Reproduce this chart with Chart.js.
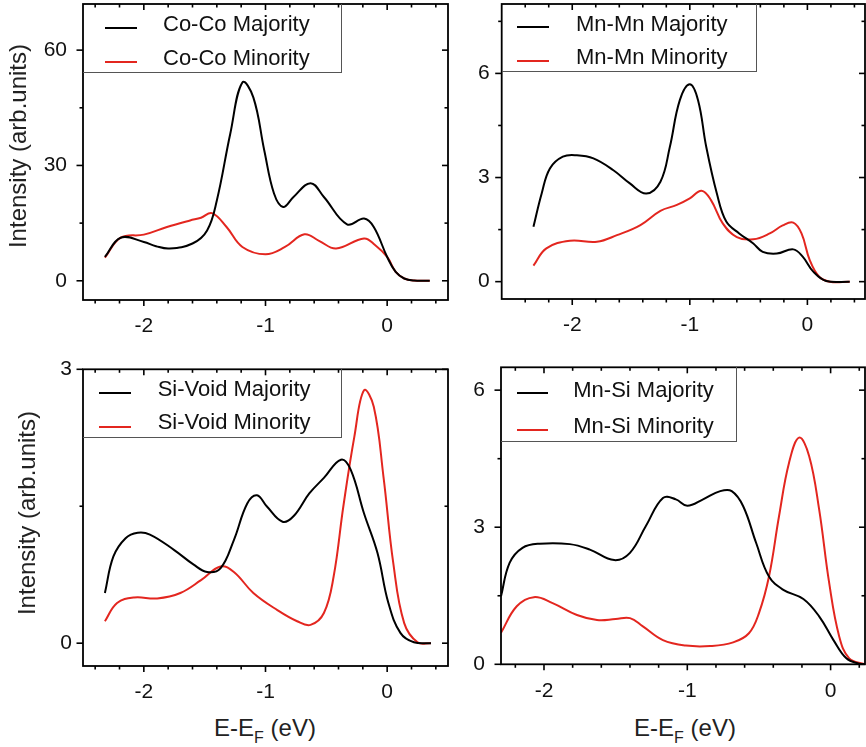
<!DOCTYPE html>
<html><head><meta charset="utf-8">
<script src="https://cdn.jsdelivr.net/npm/chart.js@4"></script>
<style>
html,body{margin:0;padding:0;background:#fff;}
body{width:866px;height:747px;position:relative;overflow:hidden;font-family:'Liberation Sans',Arial,Helvetica,sans-serif;color:#111;}
canvas{position:absolute;}
.lg{position:absolute;border-right:1px solid #555;border-bottom:1px solid #555;box-sizing:border-box;}
.lt{position:absolute;font-size:22px;line-height:22px;white-space:nowrap;color:#111;}
.ls{position:absolute;height:2px;}
.yt{position:absolute;width:260px;height:24px;line-height:24px;font-size:24px;text-align:center;transform:rotate(-90deg);white-space:nowrap;color:#222;}
.xt{position:absolute;width:200px;height:24px;line-height:24px;font-size:24px;text-align:center;white-space:nowrap;color:#222;}
.xt span{font-size:16px;position:relative;top:7px;}
</style></head><body>
<canvas id="c1"></canvas><canvas id="c2"></canvas><canvas id="c3"></canvas><canvas id="c4"></canvas>
<script>
// ---------- data ----------
const seriesNames = [
  ['Co-Co Majority','Co-Co Minority'],
  ['Mn-Mn Majority','Mn-Mn Minority'],
  ['Si-Void Majority','Si-Void Minority'],
  ['Mn-Si Majority','Mn-Si Minority']
];
const yTitle = 'Intensity (arb.units)';
const xTitleMain = 'E-E', xTitleSub = 'F', xTitleUnit = ' (eV)';

const xMajorTicks = [-2, -1, 0];
const xMinorTicksA = [-2.4,-2.2,-1.8,-1.6,-1.4,-1.2,-0.8,-0.6,-0.4,-0.2,0.2,0.4];
const xMinorTicksB = [-2.2,-1.8,-1.6,-1.4,-1.2,-0.8,-0.6,-0.4,-0.2,0.2];
const coYMajor = [0, 30, 60], coYMinor = [15, 45];
const mnYMajor = [0, 3, 6], mnYMinor = [1.5, 4.5, 7.5];
const siYMajor = [0, 3], siYMinor = [1.5];
const msYMajor = [0, 3, 6], msYMinor = [1.5, 4.5];

// Co-Co
const coMajX = [-2.32,-2.19,-2.0,-1.9,-1.79,-1.6,-1.48,-1.40,-1.29,-1.19,-1.10,-1.01,-0.93,-0.855,-0.77,-0.63,-0.52,-0.33,-0.19,-0.11,0,0.07,0.14,0.22,0.35];
const coMajY = [6.2,11.2,10.1,9.0,8.4,9.7,13.1,20.9,38.2,51.6,47.7,33.9,22.7,19.2,21.8,25.4,21.8,14.7,16.2,14.0,6.2,2.3,0.6,0.05,0];
const coMinX = [-2.32,-2.19,-2.0,-1.81,-1.62,-1.53,-1.44,-1.32,-1.19,-1.0,-0.84,-0.68,-0.56,-0.42,-0.19,-0.10,0,0.07,0.14,0.22,0.35];
const coMinY = [6.0,11.2,12.0,14.0,15.7,16.4,17.6,14.0,8.8,6.9,8.8,12.1,10.4,8.4,11.0,9.3,6.2,2.3,0.6,0.05,0];
// Mn-Mn
const mnMajX = [-2.33,-2.26,-2.19,-2.08,-1.96,-1.82,-1.65,-1.51,-1.37,-1.25,-1.17,-1.085,-1.0,-0.93,-0.86,-0.77,-0.69,-0.58,-0.46,-0.38,-0.26,-0.12,-0.04,0.05,0.16,0.36];
const mnMajY = [1.58,2.54,3.26,3.6,3.64,3.55,3.21,2.83,2.54,2.88,3.88,5.23,5.69,5.23,3.88,2.54,1.73,1.39,1.10,0.86,0.81,0.93,0.72,0.29,0.02,0];
const mnMinX = [-2.33,-2.22,-2.02,-1.79,-1.62,-1.42,-1.25,-1.11,-1.0,-0.90,-0.82,-0.72,-0.60,-0.46,-0.32,-0.21,-0.12,-0.05,0.02,0.10,0.19,0.36];
const mnMinY = [0.46,0.96,1.18,1.15,1.34,1.63,2.04,2.21,2.40,2.62,2.35,1.68,1.28,1.22,1.39,1.62,1.70,1.39,0.62,0.14,0,0];
// Si-Void
const siMajX = [-2.32,-2.25,-2.15,-2.05,-1.95,-1.75,-1.59,-1.48,-1.37,-1.26,-1.15,-1.07,-0.99,-0.86,-0.77,-0.64,-0.52,-0.38,-0.30,-0.19,-0.08,0.01,0.11,0.22,0.36];
const siMajY = [0.55,0.95,1.15,1.21,1.19,1.02,0.86,0.78,0.82,1.13,1.53,1.62,1.50,1.33,1.39,1.64,1.81,2.01,1.90,1.42,0.99,0.44,0.11,0.01,0];
const siMinX = [-2.32,-2.22,-2.08,-1.89,-1.70,-1.53,-1.37,-1.26,-1.10,-0.90,-0.74,-0.63,-0.52,-0.44,-0.36,-0.27,-0.19,-0.11,-0.03,0.05,0.14,0.25,0.36];
const siMinY = [0.24,0.44,0.50,0.49,0.55,0.69,0.84,0.78,0.55,0.36,0.24,0.20,0.33,0.73,1.50,2.26,2.77,2.59,1.82,0.88,0.22,0.01,0];
// Mn-Si
const msMajX = [-2.30,-2.24,-2.15,-2.03,-1.82,-1.68,-1.51,-1.40,-1.29,-1.17,-1.08,-1.0,-0.89,-0.77,-0.69,-0.61,-0.52,-0.43,-0.33,-0.19,-0.08,0.02,0.11,0.20,0.24];
const msMajY = [1.49,2.22,2.55,2.64,2.63,2.51,2.28,2.44,3.02,3.64,3.61,3.47,3.61,3.79,3.79,3.46,2.66,1.92,1.63,1.43,1.05,0.53,0.13,0.01,0];
const msMinX = [-2.30,-2.19,-2.07,-1.94,-1.77,-1.63,-1.50,-1.40,-1.31,-1.17,-1.01,-0.84,-0.68,-0.57,-0.50,-0.43,-0.36,-0.29,-0.22,-0.15,-0.08,-0.01,0.06,0.13,0.24];
const msMinY = [0.69,1.27,1.47,1.34,1.08,0.97,0.99,1.01,0.83,0.53,0.41,0.40,0.48,0.68,1.12,1.92,3.24,4.41,4.96,4.56,3.39,1.78,0.61,0.13,0];

// ---------- layout ----------
const FONT = "'Liberation Sans', Arial, Helvetica, sans-serif";
const BLACK = '#000000', RED = '#e3261f';
const panels = [
  {id:'c1', cx:30, cy:0, cw:425, ch:345, a:{l:83,t:4,r:448,b:300}, x:[-2.5,0.5], y:[-5,72],
   xMinor:xMinorTicksA, yMajor:coYMajor, yMinor:coYMinor, yPad:16,
   s:[[coMajX,coMajY],[coMinX,coMinY]], names:seriesNames[0]},
  {id:'c2', cx:455, cy:0, cw:411, ch:345, a:{l:501.7,t:4,r:865,b:299}, x:[-2.6,0.49], y:[-0.5,8],
   xMinor:xMinorTicksA, yMajor:mnYMajor, yMinor:mnYMinor, yPad:12,
   s:[[mnMajX,mnMajY],[mnMinX,mnMinY]], names:seriesNames[1]},
  {id:'c3', cx:30, cy:350, cw:425, ch:350, a:{l:83,t:369.3,r:448,b:666}, x:[-2.5,0.5], y:[-0.25,3],
   xMinor:xMinorTicksA, yMajor:siYMajor, yMinor:siYMinor, yPad:11,
   s:[[siMajX,siMajY],[siMinX,siMinY]], names:seriesNames[2]},
  {id:'c4', cx:455, cy:350, cw:411, ch:350, a:{l:501,t:367.3,r:865,b:664.3}, x:[-2.3,0.24], y:[0,6.5],
   xMinor:xMinorTicksB, yMajor:msYMajor, yMinor:msYMinor, yPad:16,
   s:[[msMajX,msMajY],[msMinX,msMinY]], names:seriesNames[3]}
];

const framePlugin = {
  id:'frame',
  afterDraw(chart, args, o){
    const {ctx, chartArea:a, scales} = chart;
    const xs = scales.x, ys = scales.y;
    ctx.save();
    ctx.strokeStyle = '#000';
    ctx.lineWidth = 1.8;
    ctx.strokeRect(a.left, a.top, a.right-a.left, a.bottom-a.top);
    ctx.lineWidth = 1.6;
    const seg = (x1,y1,x2,y2)=>{ctx.beginPath();ctx.moveTo(x1,y1);ctx.lineTo(x2,y2);ctx.stroke();};
    o.xMajor.forEach(v=>{const p=xs.getPixelForValue(v); seg(p,a.bottom,p,a.bottom+6); seg(p,a.top,p,a.top+6);});
    o.xMinor.forEach(v=>{const p=xs.getPixelForValue(v); seg(p,a.bottom,p,a.bottom+3.5); seg(p,a.top,p,a.top+3.5);});
    o.yMajor.forEach(v=>{const p=ys.getPixelForValue(v); seg(a.left,p,a.left-6.5,p); seg(a.right,p,a.right-6,p);});
    o.yMinor.forEach(v=>{const p=ys.getPixelForValue(v); seg(a.left,p,a.left-3.5,p); seg(a.right,p,a.right-3.5,p);});
    ctx.restore();
  }
};

panels.forEach(P=>{
  const cv = document.getElementById(P.id);
  cv.width = P.cw; cv.height = P.ch;
  cv.style.left = P.cx+'px'; cv.style.top = P.cy+'px';
  const colors = [BLACK, RED];
  new Chart(cv.getContext('2d'), {
    type:'line',
    data:{datasets:P.s.map((s,i)=>({
      label:P.names[i],
      data:s[0].map((x,j)=>({x:x, y:s[1][j]})),
      borderColor:colors[i], borderWidth:2, pointRadius:0, fill:false,
      tension:0.4
    }))},
    options:{
      responsive:false, animation:false, devicePixelRatio:1,
      layout:{padding:{left:0, top:P.a.t-P.cy, right:P.cx+P.cw-P.a.r, bottom:0}},
      plugins:{legend:{display:false}, tooltip:{enabled:false},
        frame:{xMajor:xMajorTicks, xMinor:P.xMinor, yMajor:P.yMajor, yMinor:P.yMinor}},
      scales:{
        x:{type:'linear', min:P.x[0], max:P.x[1], position:'bottom',
          grid:{display:false, drawTicks:false}, border:{display:false},
          ticks:{padding:14, autoSkip:false, maxRotation:0, color:'#111', font:{size:21, family:FONT}, callback:v=>String(v)},
          afterBuildTicks:s=>{s.ticks = xMajorTicks.map(v=>({value:v}));},
          afterFit:s=>{s.height = P.cy+P.ch-P.a.b; s.paddingLeft=0; s.paddingRight=0;}},
        y:{type:'linear', min:P.y[0], max:P.y[1], position:'left',
          grid:{display:false, drawTicks:false}, border:{display:false},
          ticks:{padding:P.yPad, autoSkip:false, color:'#111', font:{size:21, family:FONT}, callback:v=>String(v)},
          afterBuildTicks:s=>{s.ticks = P.yMajor.map(v=>({value:v}));},
          afterFit:s=>{s.width = P.a.l-P.cx; s.paddingTop=0; s.paddingBottom=0;}}
      }
    },
    plugins:[framePlugin]
  });
});

// ---------- legends & titles (HTML text) ----------
const legends = [
  {box:[83,4,341.7,73], sx:[105,137], sy:[28.3,62.3], tx:163, ty:[13.1,47.1]},
  {box:[501.7,4,756.7,71.7], sx:[517.3,549.3], sy:[26.7,61], tx:576, ty:[13.1,46.4]},
  {box:[83,369.3,341.7,437.7], sx:[99.3,130.7], sy:[392.7,426.7], tx:157.7, ty:[378.1,411.4]},
  {box:[500.7,367.3,736.7,441.7], sx:[517.3,548.3], sy:[393.3,430], tx:573.3, ty:[378.7,414.7]}
];
function add(cls, css, html){
  const d=document.createElement('div'); d.className=cls;
  Object.assign(d.style, css); if(html!==undefined) d.innerHTML=html;
  document.body.appendChild(d); return d;
}
legends.forEach((L,k)=>{
  add('lg',{left:L.box[0]+'px',top:L.box[1]+'px',width:(L.box[2]-L.box[0])+'px',height:(L.box[3]-L.box[1])+'px'});
  [BLACK,RED].forEach((c,i)=>{
    add('ls',{left:L.sx[0]+'px',top:(L.sy[i]-1)+'px',width:(L.sx[1]-L.sx[0])+'px',background:c});
    add('lt',{left:L.tx+'px',top:L.ty[i]+'px'}).textContent = seriesNames[k][i];
  });
});
[[18.4,146],[27,512.5]].forEach(([cx,cy])=>{
  add('yt',{left:(cx-130)+'px',top:(cy-12)+'px'}).textContent = yTitle;
});
[265,685].forEach(cx=>{
  add('xt',{left:(cx-100)+'px',top:'716.4px'}, xTitleMain+'<span>'+xTitleSub+'</span>'+xTitleUnit);
});
</script>
</body></html>
